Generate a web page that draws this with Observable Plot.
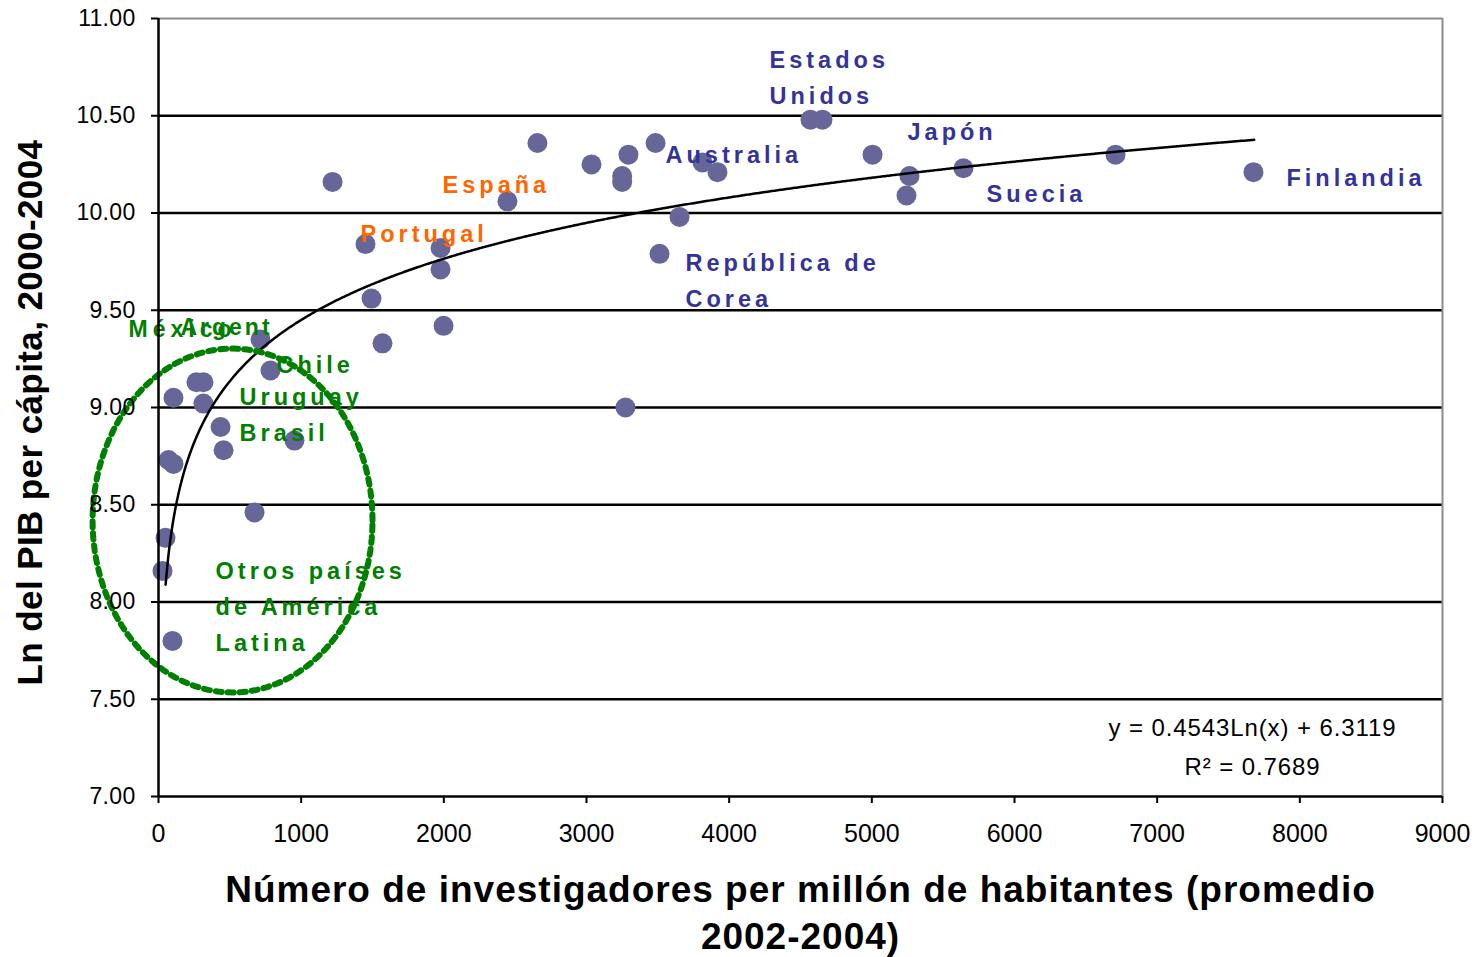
<!DOCTYPE html>
<html>
<head>
<meta charset="utf-8">
<script src="https://cdn.jsdelivr.net/npm/d3@7"></script>
<script src="https://cdn.jsdelivr.net/npm/@observablehq/plot@0.6"></script>
<style>
  html, body { margin: 0; padding: 0; background: #fff; }
  #chart svg { font-family: "Liberation Sans", Arial, sans-serif; background: #fff; }
  g[aria-label="y-axis tick label"] text { letter-spacing: 0.3px; }
  g[aria-label="x-axis tick label"] text { letter-spacing: 0px; }
</style>
</head>
<body>
<div id="chart"></div>
<script>
// Researchers per million inhabitants (avg 2002-2004)
const investigators = [28, 49, 98, 70, 105, 105, 266, 315, 315, 435, 456, 673, 715, 785, 953,
  1220, 1451, 1493, 1570, 1977, 1977, 1998, 2446, 2656, 3035, 3250, 3250, 3294, 3273, 3484,
  3512, 3652, 3813, 3918, 4570, 4654, 5005, 5243, 5264, 5642, 6708, 7675];
// Ln of GDP per capita 2000-2004
const lnGdp = [8.16, 8.33, 7.80, 8.73, 8.71, 9.05, 9.13, 9.13, 9.02, 8.90, 8.78, 8.46, 9.35, 9.19, 8.83,
  10.16, 9.84, 9.56, 9.33, 9.82, 9.71, 9.42, 10.06, 10.36, 10.25, 10.19, 10.16, 10.30, 9.00, 10.36,
  9.79, 9.98, 10.26, 10.21, 10.48, 10.48, 10.30, 10.09, 10.19, 10.23, 10.30, 10.21];

// Trend line as stated in the chart: y = 0.4543 Ln(x) + 6.3119, R² = 0.7689
const trendSlope = 0.4543;
const trendIntercept = 6.3119;
const trendExtent = [50, 7680];
const equationLines = ["y = 0.4543Ln(x) + 6.3119", "R² = 0.7689"];

// Country annotations
const labelText = ["Estados", "Unidos", "Japón", "Australia", "Suecia", "Finlandia", "República de", "Corea",
  "España", "Portugal", "Chile", "Uruguay", "Brasil", "Otros países", "de América", "Latina"];
const labelX = [4283, 4283, 5250, 3554, 5804, 7906, 3694, 3694, 1991, 1416, 827, 568, 568, 400, 400, 400];
const labelY = [10.784, 10.599, 10.414, 10.296, 10.095, 10.177, 9.740, 9.555, 10.141, 9.889, 9.216, 9.051, 8.866, 8.157, 7.972, 7.787];
const labelGroup = ["oecd", "oecd", "oecd", "oecd", "oecd", "oecd", "oecd", "oecd",
  "iberia", "iberia", "latam", "latam", "latam", "latam", "latam", "latam"];
const overlapText = ["México", "Argent"];
const overlapX = [-210, 154];
const overlapY = [9.401, 9.411];

// Dotted ellipse around Latin America
const ellipseCenter = [519, 8.419];
const ellipseRadius = [981, 0.884];

const xTicks = [0, 1000, 2000, 3000, 4000, 5000, 6000, 7000, 8000, 9000];
const yTicks = [7.0, 7.5, 8.0, 8.5, 9.0, 9.5, 10.0, 10.5, 11.0];
const gridValues = [7.5, 8.0, 8.5, 9.0, 9.5, 10.0, 10.5];

const xTitle = "Número de investigadores per millón de habitantes (promedio\n2002-2004)";
const yTitle = "Ln del PIB per cápita, 2000-2004";

const groupColor = {oecd: "#333399", iberia: "#FF6600", latam: "#008000"};

const points = investigators.map((x, i) => ({x, y: lnGdp[i]}));
const trend = d3.range(trendExtent[0], trendExtent[1] + 1, 10).map(x => ({x, y: trendSlope * Math.log(x) + trendIntercept}));
const labels = labelText.map((t, i) => ({t, x: labelX[i], y: labelY[i], c: groupColor[labelGroup[i]]}));
const overlaps = overlapText.map((t, i) => ({t, x: overlapX[i], y: overlapY[i]}));
const ellipse = d3.range(0, 361, 2).map(a => ({
  x: ellipseCenter[0] + ellipseRadius[0] * Math.cos(a * Math.PI / 180),
  y: ellipseCenter[1] + ellipseRadius[1] * Math.sin(a * Math.PI / 180)
}));

const chart = Plot.plot({
  width: 1480,
  height: 957,
  marginLeft: 158,
  marginRight: 38,
  marginTop: 18,
  marginBottom: 161,
  x: {domain: [0, 9000]},
  y: {domain: [7, 11]},
  marks: [
    Plot.ruleY(gridValues, {stroke: "black", strokeWidth: 2.5}),
    Plot.ruleY([11], {stroke: "#8c8c8c", strokeWidth: 2}),
    Plot.ruleX([9000], {stroke: "#8c8c8c", strokeWidth: 2}),
    Plot.dot(points, {x: "x", y: "y", r: 10, fill: "#666699", stroke: "none"}),
    Plot.line(trend, {x: "x", y: "y", stroke: "black", strokeWidth: 2.5}),
    Plot.text(labels, {x: "x", y: "y", text: "t", fill: "c", textAnchor: "start", fontWeight: "bold", fontSize: 23.5}),
    Plot.text(overlaps, {x: "x", y: "y", text: "t", fill: "#008000", textAnchor: "start", fontWeight: "bold", fontSize: 23}),
    Plot.line(ellipse, {x: "x", y: "y", stroke: "#008000", strokeWidth: 6, strokeDasharray: "6,6"}),
    Plot.text(equationLines, {x: () => 7668, y: (d, i) => [7.350, 7.149][i], text: d => d, fontSize: 24, fill: "black", textAnchor: "middle"}),
    Plot.ruleX([0], {stroke: "black", strokeWidth: 2.5}),
    Plot.ruleY([7], {stroke: "black", strokeWidth: 2.5}),
    Plot.axisX({ticks: xTicks, tickFormat: d => String(d), tickSize: 7, tickPadding: 21, fontSize: 25, label: null, stroke: "black", strokeWidth: 2, fill: "black"}),
    Plot.axisY({ticks: yTicks, tickFormat: d3.format(".2f"), tickSize: 7, tickPadding: 16, fontSize: 23, label: null, stroke: "black", strokeWidth: 2, fill: "black"}),
    Plot.text([xTitle], {frameAnchor: "bottom", dy: 72, lineAnchor: "top", lineHeight: 1.27, text: d => d, fontSize: 37, fontWeight: "bold", fill: "black"}),
    Plot.text([yTitle], {frameAnchor: "left", dx: -128, dy: 5, rotate: -90, textAnchor: "middle", text: d => d, fontSize: 35, fontWeight: "bold", fill: "black"})
  ]
});

// letter spacing per text, matched by content
const spacing = new Map();
labelText.forEach(t => spacing.set(t, "4px"));
spacing.set(overlapText[0], "5px");
spacing.set(overlapText[1], "3px");
spacing.set(equationLines[0], "0.9px");
spacing.set(equationLines[1], "0.9px");
spacing.set(yTitle, "0.4px");
spacing.set(xTitle.replace("\n", ""), "1px");
d3.select(chart).selectAll("text").each(function() {
  const s = spacing.get(this.textContent);
  if (s) this.style.letterSpacing = s;
});
document.getElementById("chart").appendChild(chart);
</script>
</body>
</html>
